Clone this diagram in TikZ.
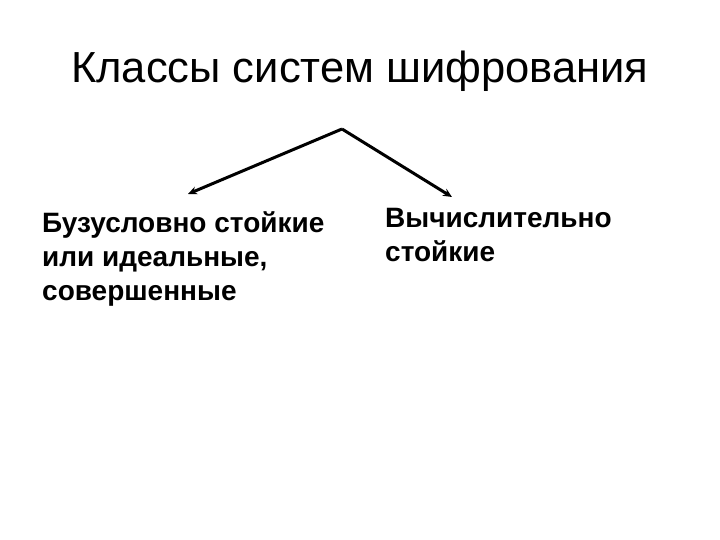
\documentclass[tikz,border=0pt]{standalone}
\usepackage{fontspec}
\setmainfont{Liberation Sans}
\usetikzlibrary{arrows.meta}

\begin{document}
\begin{tikzpicture}[x=1pt, y=-1pt,
    kind/.style={font=\bfseries\fontsize{28}{34}\selectfont, align=left, inner sep=0pt, anchor=north west}]
        \useasboundingbox (0,0) rectangle (720,540);

        \node[anchor=base west, inner sep=0pt, font=\fontsize{43.5}{48}\selectfont] (title) at (71,83) {Классы систем шифрования};

        % two classes
        \node[kind] (uncond) at (42,211) {Бузусловно стойкие\\или идеальные,\\совершенные};
        \node[kind] (comput) at (385,208) {Вычислительно\\стойкие};

        \coordinate (apex) at (342,129);
        \coordinate (lefttip) at (188,194);
        \coordinate (righttip) at (452,197);
        \draw[line width=3pt, -{Stealth[length=9pt, width=8pt]}] (apex) -- (lefttip);
        \draw[line width=3pt, -{Stealth[length=9pt, width=8pt]}] (apex) -- (righttip);
      \end{tikzpicture}
\end{document}
